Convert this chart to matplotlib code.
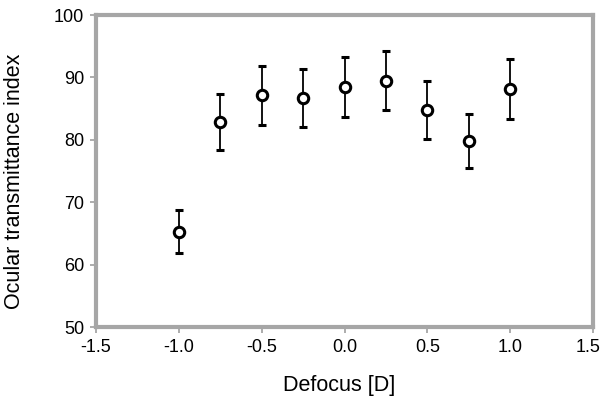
import numpy as np
import matplotlib.pyplot as plt
from matplotlib.transforms import ScaledTranslation

plt.rcParams['font.family'] = ['Liberation Sans', 'DejaVu Sans']

# data
defocus = [-1.0, -0.75, -0.5, -0.25, 0.0, 0.25, 0.5, 0.75, 1.0]
oti_mean = [65.3, 82.9, 87.1, 86.7, 88.5, 89.5, 84.8, 79.8, 88.1]
oti_err = [3.5, 4.5, 4.7, 4.7, 4.8, 4.8, 4.6, 4.3, 4.8]

W, H = 604, 399
fig = plt.figure(figsize=(W / 100, H / 100), dpi=100)
ax = fig.add_axes([96 / W, 1 - 327 / H, (593 - 96) / W, (327 - 15) / H])

ax.errorbar(defocus, oti_mean, yerr=oti_err, fmt='o', color='black',
            mfc='white', mec='black', ms=7.5, mew=2.2, elinewidth=1.3,
            capsize=3, capthick=1.3)

xt = np.arange(-1.5, 1.51, 0.5)
ax.set_xlim(-1.5, 1.5)
ax.set_ylim(50, 100)
ax.set_xticks(xt)
ax.set_xticklabels([f'{v:.1f}' for v in xt])
ax.set_yticks(range(50, 101, 10))

for s in ax.spines.values():
    s.set_color('#a6a6a6')
    s.set_linewidth(3)
ax.tick_params(direction='out', length=4.5, width=1.3, color='#a6a6a6',
               labelsize=13, labelcolor='black', pad=4)

# keep the last x label inside the figure, as in the reference
lbl = ax.get_xticklabels()[-1]
lbl.set_transform(lbl.get_transform() + ScaledTranslation(-5 / 100, 0, fig.dpi_scale_trans))

ax.set_xlabel('Defocus [D]', fontsize=15.5, va='center')
ax.xaxis.set_label_coords(339 / W, 1 - 385 / H, transform=fig.transFigure)
ax.set_ylabel('Ocular transmittance index', fontsize=15.5, va='center')
ax.yaxis.set_label_coords(15 / W, 1 - 181 / H, transform=fig.transFigure)

fig.savefig('out.png', dpi=100)
